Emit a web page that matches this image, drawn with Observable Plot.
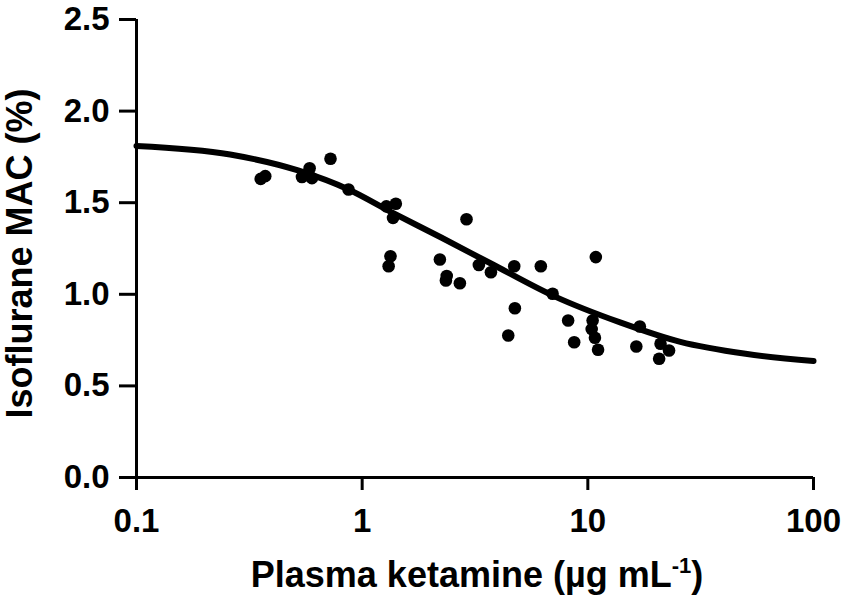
<!DOCTYPE html>
<html>
<head>
<meta charset="utf-8">
<script src="https://cdn.jsdelivr.net/npm/d3@7"></script>
<script src="https://cdn.jsdelivr.net/npm/@observablehq/plot@0.6"></script>
<style>
  html, body { margin: 0; padding: 0; background: white; }
</style>
</head>
<body>
<div id="chart"></div>
<script>
// Observed data points (plasma ketamine µg/mL, isoflurane MAC %)
const ketamine = [0.355, 0.372, 0.541, 0.585, 0.599, 0.724, 0.87,
  1.28, 1.41, 1.37, 1.335, 1.31,
  2.21, 2.37, 2.35, 2.71, 2.90, 3.29, 3.72,
  4.44, 4.72, 4.75, 6.19, 6.98,
  8.18, 8.7, 10.5, 10.4, 10.75, 11.1, 10.85,
  16.4, 17.0, 20.7, 21.0, 22.9];
const mac = [1.63, 1.645, 1.64, 1.688, 1.634, 1.74, 1.572,
  1.48, 1.494, 1.417, 1.208, 1.153,
  1.19, 1.10, 1.075, 1.06, 1.41, 1.16, 1.12,
  0.775, 1.153, 0.924, 1.153, 1.003,
  0.857, 0.738, 0.857, 0.81, 0.763, 0.697, 1.203,
  0.715, 0.824, 0.648, 0.73, 0.693];

// Fitted curve
const curveX = [0.1, 0.26, 0.52, 0.87, 1.34, 2.24, 3.72, 7.08, 14, 25.7, 50, 100];
const curveY = [1.81, 1.763, 1.676, 1.572, 1.45, 1.31, 1.168, 0.99, 0.845, 0.74, 0.675, 0.636];

// Ticks and labels
const xTicks = [0.1, 1, 10, 100];
const xTickLabels = ["0.1", "1", "10", "100"];
const yTicks = [0, 0.5, 1.0, 1.5, 2.0, 2.5];
const yTickLabels = ["0.0", "0.5", "1.0", "1.5", "2.0", "2.5"];
const xLabelMain = "Plasma ketamine (µg mL";
const xLabelSup = "-1";
const xLabelEnd = ")";
const yLabel = "Isoflurane MAC (%)";

const points = ketamine.map((k, i) => ({k, m: mac[i]}));
const curve = curveX.map((x, i) => ({x, y: curveY[i]}));

const chart = Plot.plot({
  width: 851,
  height: 603,
  marginLeft: 136,
  marginRight: 38,
  marginTop: 19,
  marginBottom: 126,
  style: {fontFamily: "'Liberation Sans', Arial, sans-serif", fontWeight: "bold", background: "white", color: "black"},
  x: {type: "log", domain: [0.1, 100]},
  y: {domain: [0, 2.5]},
  marks: [
    Plot.axisY({ticks: yTicks, tickFormat: d => yTickLabels[yTicks.indexOf(d)], tickSize: 17, tickPadding: 10,
      fontSize: 33, strokeWidth: 3, label: null}),
    Plot.axisX({ticks: xTicks, tickFormat: d => xTickLabels[xTicks.indexOf(d)], tickSize: 13, tickPadding: 18,
      fontSize: 33, strokeWidth: 3, label: null}),
    Plot.ruleX([0.1], {y1: 0, y2: 2.5, strokeWidth: 3}),
    Plot.ruleY([0], {x1: 0.1, x2: 100, strokeWidth: 3}),
    Plot.line(curve, {x: "x", y: "y", strokeWidth: 6, curve: "monotone-x", stroke: "black"}),
    Plot.dot(points, {x: "k", y: "m", r: 6.3, fill: "black"}),
    Plot.text([xLabelMain], {frameAnchor: "bottom", dx: 2, dy: 98, fontSize: 36, lineAnchor: "middle", textAnchor: "middle"}),
    Plot.text([yLabel], {frameAnchor: "left", rotate: -90, dx: -116, dy: 5, fontSize: 36, lineAnchor: "middle", textAnchor: "middle"})
  ]
});

document.getElementById("chart").appendChild(chart);

// Add superscript to x-axis title
d3.select(chart).selectAll("text").filter(function() { return this.textContent === xLabelMain; })
  .each(function() {
    const t = d3.select(this);
    t.text(null);
    t.append("tspan").text(xLabelMain);
    t.append("tspan").attr("font-size", 22).attr("dy", -14).text(xLabelSup);
    t.append("tspan").attr("font-size", 36).attr("dy", 14).text(xLabelEnd);
  });
</script>
</body>
</html>
